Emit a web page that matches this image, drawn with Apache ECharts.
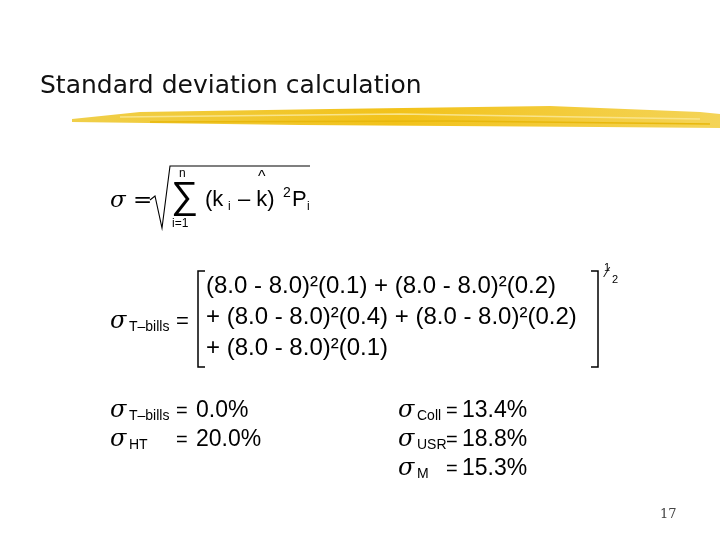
<!DOCTYPE html>
<html><head><meta charset="utf-8">
<script src="https://cdn.jsdelivr.net/npm/echarts@6/dist/echarts.min.js"></script>
<style>html,body{margin:0;padding:0;background:#fff}#c{width:720px;height:540px}</style>
</head><body><div id="c"></div>
<script>
const title = "Standard deviation calculation";
const returnsTB = [8.0, 8.0, 8.0, 8.0, 8.0];
const meanTB = 8.0;
const probs = [0.1, 0.2, 0.4, 0.2, 0.1];
const leftNames = ["T\u2013bills", "HT"];
const leftVals = [0.0, 20.0];
const rightNames = ["Coll", "USR", "M"];
const rightVals = [13.4, 18.8, 15.3];
const pageNum = "17";

const F = '"Liberation Sans", Arial, sans-serif';
const S = '"DejaVu Serif", "Liberation Serif", serif';
const els = [];
function txt(x, y, t, size, opt) {
  els.push({type:'text', x, y, style:Object.assign({text:t, fontSize:size, fontFamily:F, fill:'#000', textVerticalAlign:'middle'}, opt||{})});
}
function line(pts, w) {
  els.push({type:'polyline', shape:{points:pts}, style:{stroke:'#000', lineWidth:w||1.5, fill:null}});
}
function sigma(x, y, sub) {
  txt(x, y, '\u03c3', 24, {fontFamily:S, fontStyle:'italic'});
  if (sub) txt(x + 19, y + 5, sub, 14);
}
// title
txt(40, 86, title, 25, {fontFamily:'"DejaVu Sans", Verdana, sans-serif', fill:'#111'});
// yellow brush stroke
els.push({type:'polygon', shape:{points:[[72,119],[140,112],[330,109],[550,106],[700,112],[720,114],[720,128],[600,127],[300,125],[72,122]]},
  style:{fill:{type:'linear',x:0,y:0,x2:1,y2:0,colorStops:[{offset:0,color:'#f0cf4a'},{offset:0.5,color:'#f2c21a'},{offset:1,color:'#f4d458'}]}}});
els.push({type:'polyline', shape:{points:[[120,117],[400,114],[700,119]]}, style:{stroke:'#f9e48a', lineWidth:1.5, fill:null}});
els.push({type:'polyline', shape:{points:[[150,122],[450,121],[710,124]]}, style:{stroke:'#e8b80c', lineWidth:1.5, fill:null}});
// formula 1
txt(110, 201, '\u03c3 =', 23, {fontFamily:S, fontStyle:'italic'});
line([[150,200],[155,196],[162,228],[170,166],[310,166]], 1.1);
txt(171, 198, '\u2211', 38);
txt(179, 174, 'n', 12);
txt(172, 224, 'i=1', 12);
txt(205, 200, '(k', 22);
txt(228, 207, 'i', 12);
txt(238, 200, '\u2013 k)', 22);
txt(258, 178, '^', 16);
txt(283, 193, '2', 14);
txt(292, 200, 'P', 22);
txt(307, 207, 'i', 12);
// formula 2
sigma(110, 322, leftNames[0]);
txt(176, 322, '=', 22);
line([[205,271],[198,271],[198,367],[205,367]], 1.5);
line([[591,271],[598,271],[598,367],[591,367]], 1.5);
txt(604, 268, '1', 11);
txt(606, 273, '\u2044', 14);
txt(612, 280, '2', 11);
function term(i) { return '(' + returnsTB[i].toFixed(1) + ' - ' + meanTB.toFixed(1) + ')\u00b2(' + probs[i].toFixed(1) + ')'; }
txt(206, 286, term(0) + ' + ' + term(1), 24);
txt(206, 317, '+ ' + term(2) + ' + ' + term(3), 24);
txt(206, 348, '+ ' + term(4), 24);
// results
leftNames.forEach((n, i) => {
  const y = 411 + i * 29;
  sigma(110, y, n);
  txt(176, y, '=', 20);
  txt(196, y, leftVals[i].toFixed(1) + '%', 23);
});
rightNames.forEach((n, i) => {
  const y = 411 + i * 29;
  sigma(398, y, n);
  txt(446, y, '=', 20);
  txt(462, y, rightVals[i].toFixed(1) + '%', 23);
});
txt(660, 515, pageNum, 13, {fontFamily:S, fill:'#444'});

const chart = echarts.init(document.getElementById('c'));
chart.setOption({animation:false, backgroundColor:'#fff', graphic:{elements:els}});
</script></body></html>
